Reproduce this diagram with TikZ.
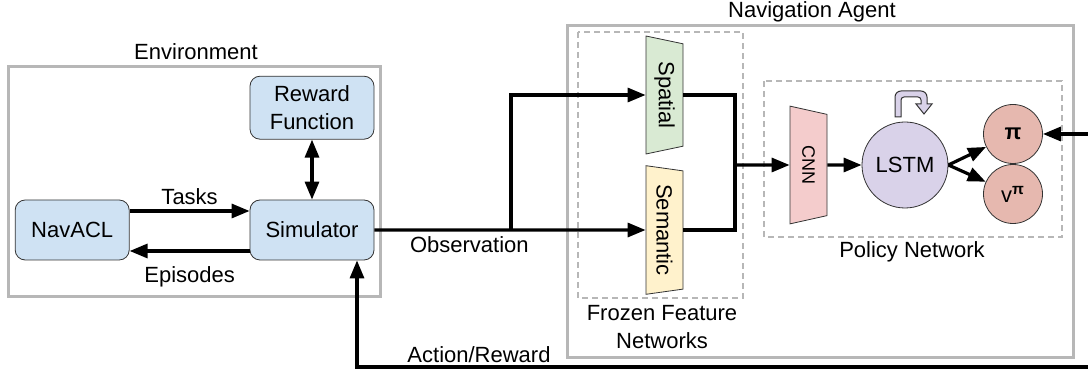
\documentclass[tikz,border=0pt]{standalone}
\usepackage{fontspec}
\setmainfont{Liberation Sans}
\usetikzlibrary{arrows.meta,positioning,shapes.geometric,calc}
\definecolor{envblue}{HTML}{CFE2F3}
\definecolor{featgreen}{HTML}{D9EAD3}
\definecolor{featyellow}{HTML}{FFF2CC}
\definecolor{cnnpink}{HTML}{F4CCCC}
\definecolor{lstmlilac}{HTML}{D9D2E9}
\definecolor{headred}{HTML}{E6B8AF}
\definecolor{framegray}{HTML}{B7B7B7}
\tikzset{
  block/.style  = {draw=black!80, fill=envblue, rounded corners=5pt, minimum width=62pt,
                   minimum height=30pt, align=center, inner sep=2pt},
  layer/.style  = {draw=black!80, trapezium, trapezium stretches=true, trapezium left angle=76,
                   trapezium right angle=76, rotate=-90, minimum width=59pt, minimum height=18.5pt,
                   inner sep=0pt},
  unit/.style   = {draw=black!80, circle, fill=headred, minimum size=29.5pt, inner sep=0pt},
  frame/.style  = {draw=framegray, line width=1.5pt},
  group/.style  = {draw=framegray, line width=0.8pt, dash pattern=on 3pt off 2pt},
  wire/.style   = {line width=1.6pt},
  post/.style   = {-{Triangle[length=9pt,width=7pt]}, wire},
  both/.style   = {{Triangle[length=9pt,width=7pt]}-{Triangle[length=9pt,width=7pt]}, wire},
  recur/.style  = {draw=black!80, fill=lstmlilac, line width=0.5pt}
}

\begin{document}
\begin{tikzpicture}[x=0.5pt, y=-0.5pt, font=\fontsize{11}{14}\selectfont]
  \useasboundingbox (0,0) rectangle (1088,373);

  % environment
  \draw[frame] (8,67) rectangle (380,297);
  \node (envlabel) at (196,52) {Environment};
  \node[block] (sim) at (312,230) {Simulator};
  \node[block, minimum width=57pt] (navacl) [left=60pt of sim] {NavACL};
  \node[block, minimum height=31.5pt] (reward) [above=30pt of sim] {Reward\\Function};
  \draw[post] ([yshift=9.5pt]navacl.east) -- node[above=-1pt] (tasks) {Tasks} ([yshift=9.5pt]sim.west);
  \draw[post] ([yshift=-10.5pt]sim.west) -- node[below=3.5pt] (episodes) {Episodes} ([yshift=-10.5pt]navacl.east);
  \draw[both] (reward) -- (sim);

  % agent
  \draw[frame] (567,26) rectangle (1073,358);
  \node (agentlabel) at (812,12) {Navigation Agent};
  \draw[group] (578,32) rectangle (743,298);
  \node[align=center] (frozenlabel) at (662,327) {Frozen Feature\\Networks};
  \node[layer, fill=featgreen] (spatial) at (664.5,95) {Spatial};
  \node[layer, fill=featyellow, minimum width=64.5pt] (semantic) at (664.5,230) {Semantic};

  \draw[group] (764,81) rectangle (1062,237);
  \node (policylabel) at (912,252) {Policy Network};
  \node[layer, fill=cnnpink, font=\fontsize{9}{11}\selectfont] (cnn) at (808.5,165) {CNN};
  \node[unit, fill=lstmlilac, minimum size=43pt] (lstm) at (905,165) {LSTM};
  \node[unit] (pi) at (1013,134) {\textbf{π}};
  \node[unit] (vpi) at (1013,194) {v\textsuperscript{\textbf{π}}};
  \filldraw[recur] (895,117) [rounded corners=3pt] -- (895,91) -- (927,91) [sharp corners]
    -- (927,104) -- (932,104) -- (924,114) -- (916,104) -- (921,104) [rounded corners=1.5pt]
    -- (921,97) -- (901,97) [sharp corners] -- (901,117) -- cycle;

  % connections
  \coordinate (split) at (511,230);
  \coordinate (merge) at (735,165);
  \coordinate (rin) at (1100,134);
  \coordinate (rout) at (1100,367);
  \draw[post] (sim.east) -- node[below=-1pt, pos=0.35] (obs) {Observation} (semantic.south);
  \draw[post] (split) |- (spatial.south);
  \draw[wire] (spatial.north) -| (merge |- semantic.north) -- (semantic.north);
  \draw[post] (merge) -- (cnn.south);
  \draw[post] (cnn.north) -- (lstm.west);
  \draw[post] (lstm.east) -- (pi);
  \draw[post] (lstm.east) -- (vpi);
  \draw[post] (rin) -- (pi);
  \draw[post] (rout) -| ([xshift=22.5pt]sim.south);
  \node (actlabel) at (479,355) {Action/Reward};
\end{tikzpicture}
\end{document}
